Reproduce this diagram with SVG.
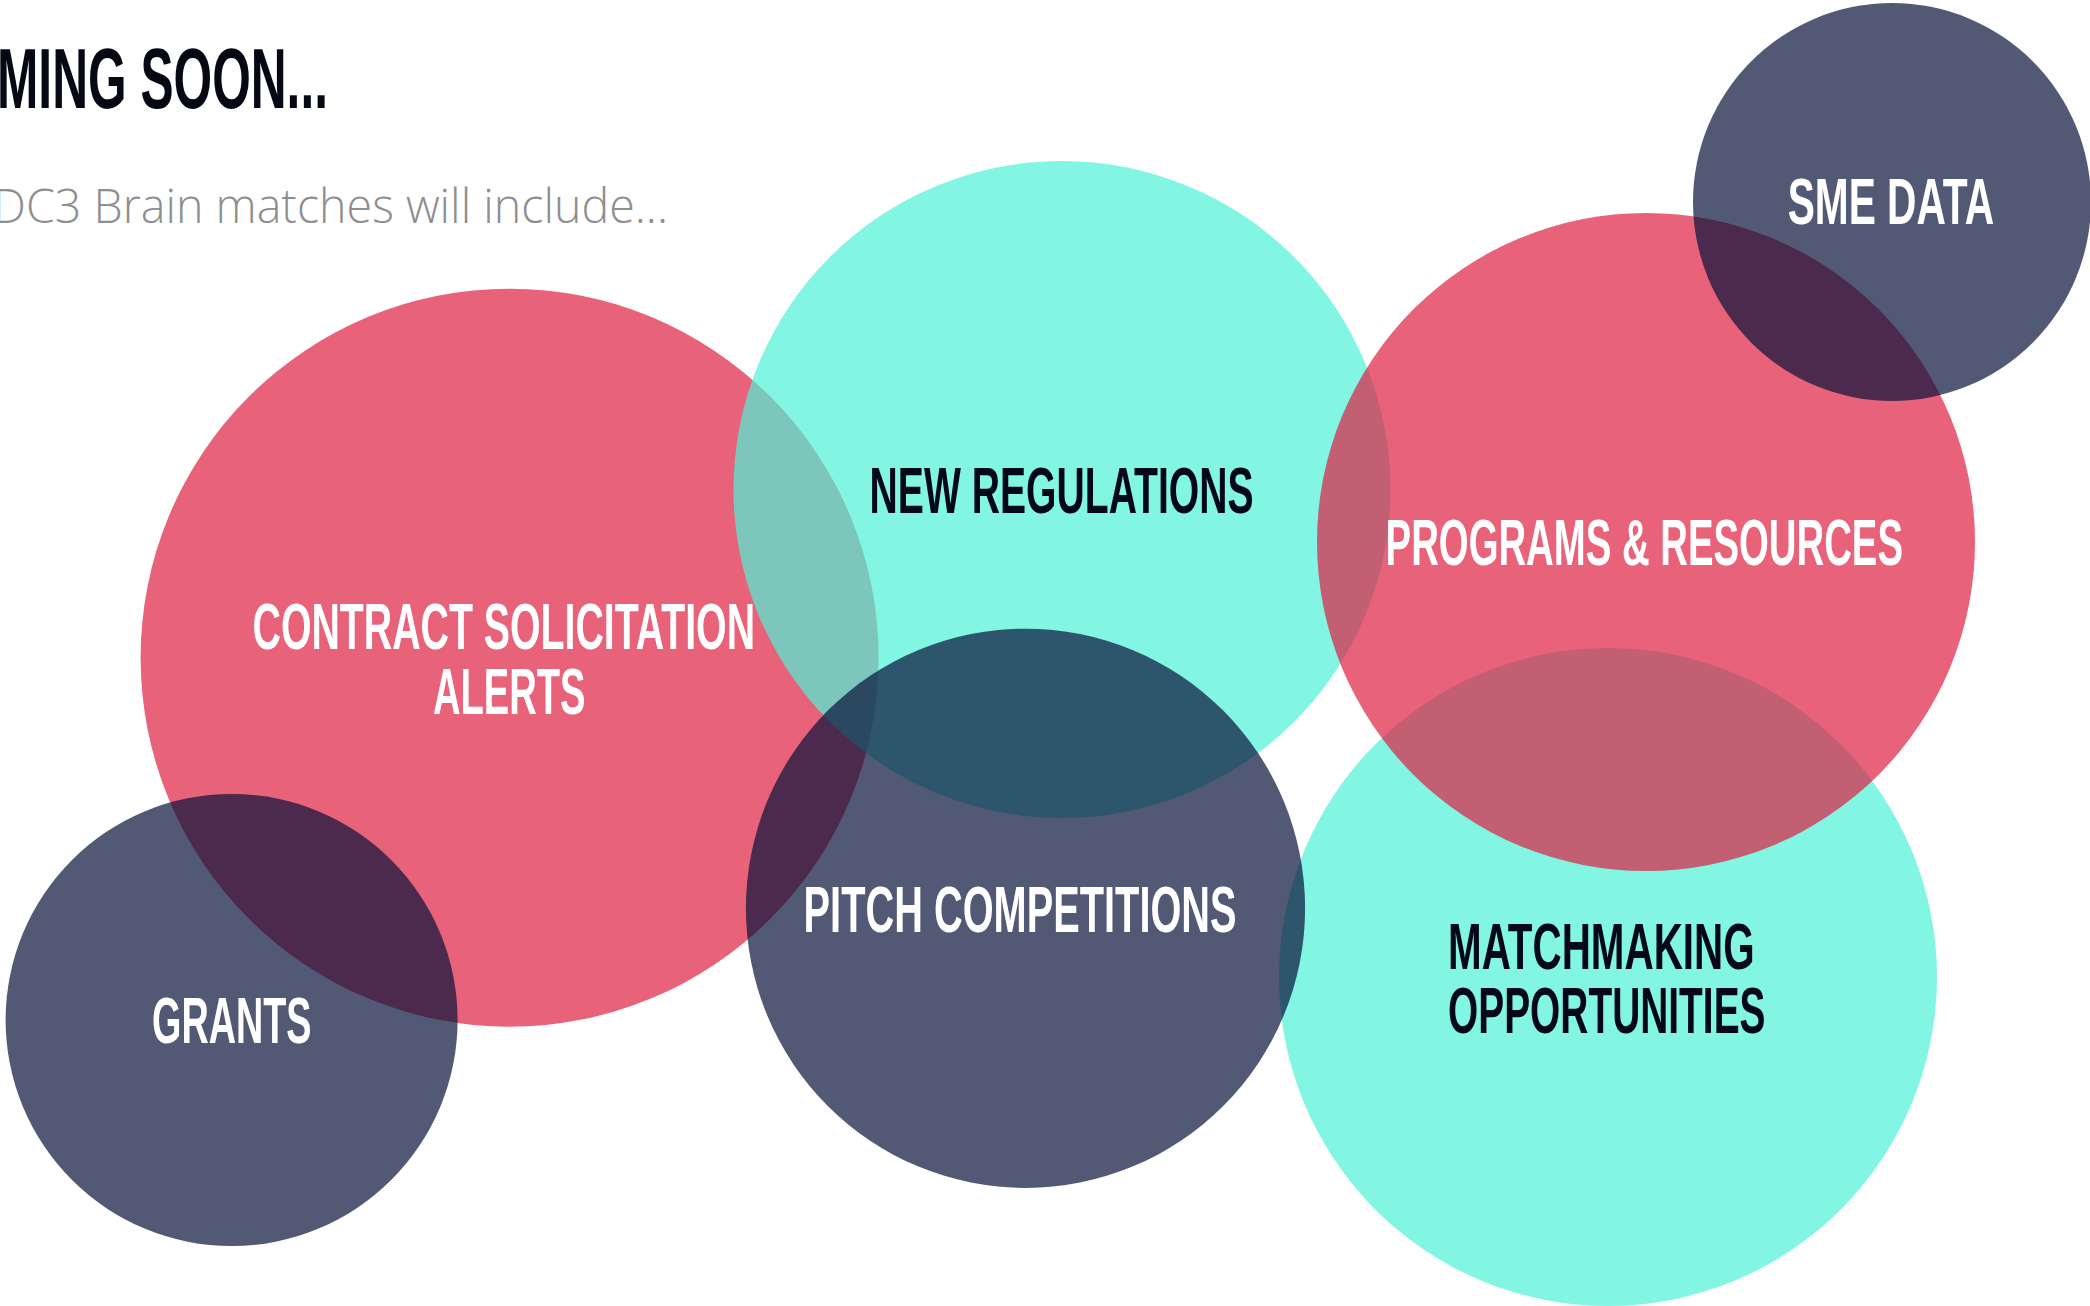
<svg xmlns="http://www.w3.org/2000/svg" width="2090" height="1306" viewBox="0 0 2090 1306">
<style>
.bubble{fill-opacity:0.7}
.red{fill:#DE2041}
.teal{fill:#4FF1D7}
.navy{fill:#08133A}
.lbl{font-family:"Liberation Sans","DejaVu Sans",sans-serif;font-weight:700;font-size:65px}
.w{fill:#FFFFFF}
.d{fill:#050816}
.title{font-family:"Liberation Sans","DejaVu Sans",sans-serif;font-weight:700;font-size:86px;fill:#060914}
.sub{font-family:"Open Sans","Liberation Sans",sans-serif;font-weight:300;font-size:48px;fill:#8E8E8E}
</style>
<rect width="2090" height="1306" fill="#FFFFFF"/>
<g id="header">
<text class="title" x="-3" y="108" textLength="331" lengthAdjust="spacingAndGlyphs">MING SOON...</text>
<text class="sub" x="-7" y="223" textLength="675" lengthAdjust="spacingAndGlyphs">DC3 Brain matches will include...</text>
</g>
<g id="connectors"></g>
<g id="node-contract">
<circle class="bubble red" cx="509.6" cy="657.7" r="369"/>
<text class="lbl w" x="252.6" y="648.5" textLength="502.4" lengthAdjust="spacingAndGlyphs">CONTRACT SOLICITATION</text>
<text class="lbl w" x="433" y="713.5" textLength="152.5" lengthAdjust="spacingAndGlyphs">ALERTS</text>
</g>
<g id="node-matchmaking">
<circle class="bubble teal" cx="1608" cy="977" r="329"/>
<text class="lbl d" x="1448" y="968.5" textLength="306.6" lengthAdjust="spacingAndGlyphs">MATCHMAKING</text>
<text class="lbl d" x="1448" y="1033" textLength="317.5" lengthAdjust="spacingAndGlyphs">OPPORTUNITIES</text>
</g>
<g id="node-regulations">
<circle class="bubble teal" cx="1062" cy="489.5" r="328.5"/>
<text class="lbl d" x="869.6" y="512.5" textLength="384" lengthAdjust="spacingAndGlyphs">NEW REGULATIONS</text>
</g>
<g id="node-programs">
<circle class="bubble red" cx="1646" cy="542" r="329"/>
<text class="lbl w" x="1385.6" y="565" textLength="517.4" lengthAdjust="spacingAndGlyphs">PROGRAMS &amp; RESOURCES</text>
</g>
<g id="node-sme">
<circle class="bubble navy" cx="1892" cy="202" r="199"/>
<text class="lbl w" x="1787.7" y="224" textLength="206.3" lengthAdjust="spacingAndGlyphs">SME DATA</text>
</g>
<g id="node-grants">
<circle class="bubble navy" cx="231.6" cy="1020" r="226"/>
<text class="lbl w" x="152" y="1042.7" textLength="159.5" lengthAdjust="spacingAndGlyphs">GRANTS</text>
</g>
<g id="node-pitch">
<circle class="bubble navy" cx="1025.5" cy="908.3" r="279.6"/>
<text class="lbl w" x="803.6" y="931.8" textLength="433" lengthAdjust="spacingAndGlyphs">PITCH COMPETITIONS</text>
</g>
</svg>
